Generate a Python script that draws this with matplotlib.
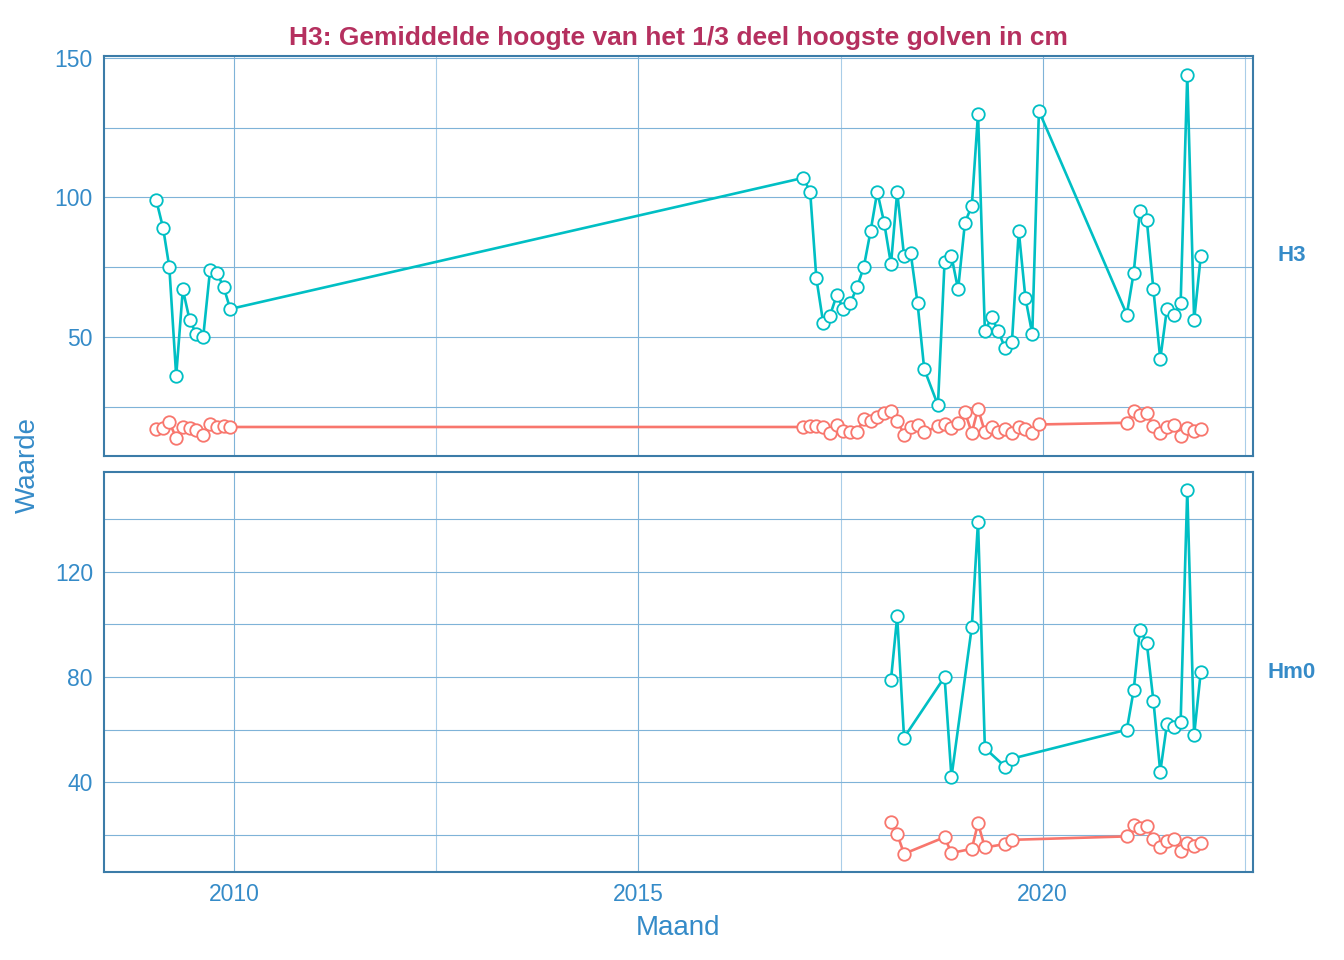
import datetime as dt
import matplotlib
matplotlib.use("Agg")
import matplotlib.pyplot as plt
import matplotlib.dates as mdates
from matplotlib.ticker import FixedLocator

plt.rcParams["font.family"] = ["Liberation Sans", "DejaVu Sans"]

# months (year, month) per panel
months_h3 = ([(2009, m) for m in range(1, 13)]
             + [(2017, m) for m in range(1, 13)]
             + [(2018, m) for m in range(1, 8)]
             + [(2018, m) for m in range(9, 13)]
             + [(2019, m) for m in range(1, 13)]
             + [(2021, m) for m in range(1, 13)])

h3_cyan = [99, 89, 75, 36, 67, 56, 51, 50, 74, 73, 68, 60,
           107, 102, 71, 55, 57.5, 65, 60, 62, 68, 75, 88, 102,
           91, 76, 102, 79, 80, 62, 38.5,
           25.5, 77, 79, 67,
           91, 97, 130, 52, 57, 52, 46, 48, 88, 64, 51, 131,
           58, 73, 95, 92, 67, 42, 60, 58, 62, 144, 56, 79]

h3_red = [16.8, 17.4, 19.4, 13.8, 17.7, 17.4, 16.5, 15.0, 18.6, 17.7, 18.2, 17.7,
          17.7, 18.0, 18.0, 17.7, 15.6, 18.3, 16.4, 15.9, 15.9, 20.7, 20.0, 21.2,
          22.7, 23.6, 20.0, 15.0, 17.7, 18.3, 15.8,
          18.0, 18.6, 17.4, 19.2,
          23.0, 15.6, 24.3, 15.9, 17.7, 15.9, 16.8, 15.6, 17.7, 17.1, 15.6, 18.6,
          19.2, 23.3, 21.9, 22.7, 18.0, 15.6, 17.6, 18.3, 14.4, 17.4, 16.2, 17.1]

months_hm0 = ([(2018, 2), (2018, 3), (2018, 4), (2018, 10), (2018, 11),
               (2019, 2), (2019, 3), (2019, 4), (2019, 7), (2019, 8)]
              + [(2021, m) for m in range(1, 13)])

hm0_cyan = [79, 103, 57, 80, 42, 99, 139, 53, 46, 49,
            60, 75, 98, 93, 71, 44, 62, 61, 63, 151, 58, 82]

hm0_red = [24.8, 20.4, 12.9, 19.2, 13.2, 14.8, 24.5, 15.3, 16.6, 18.2,
           19.5, 23.7, 22.6, 23.3, 18.5, 15.5, 17.6, 18.6, 14.1, 17.0, 16.0, 17.0]

panels = [
    ("H3", months_h3, h3_red, h3_cyan, [50, 100, 150], [25, 75, 125]),
    ("Hm0", months_hm0, hm0_red, hm0_cyan, [40, 80, 120], [20, 60, 100, 140]),
]

RED = "#F8766D"
CYAN = "#00BFC4"
BLUE_TXT = "#358bc8"
SPINE = "#3b7ca8"
GRID = "#7fb3d8"
GRID_MINOR = "#a9cde8"

fig = plt.figure(figsize=(13.44, 9.6), dpi=100)
ax_top = fig.add_axes([0.0774, 0.525, 0.8549, 0.4167])
ax_bot = fig.add_axes([0.0774, 0.0917, 0.8549, 0.4166], sharex=ax_top)

for ax, (name, months, red, cyan, yt, ymin) in zip([ax_top, ax_bot], panels):
    dates = [dt.datetime(y, m, 15) for y, m in months]
    ax.plot(dates, red, color=RED, lw=1.9, zorder=3)
    ax.plot(dates, cyan, color=CYAN, lw=1.9, zorder=3)
    for vals, col in [(red, RED), (cyan, CYAN)]:
        ax.plot(dates, vals, ls="none", marker="o", ms=9, mfc="white",
                mec=col, mew=1.3, zorder=4)
    ax.set_yticks(yt)
    ax.yaxis.set_minor_locator(FixedLocator(ymin))
    ax.grid(True, which="major", color=GRID, lw=0.8, zorder=0)
    ax.grid(True, which="minor", axis="y", color=GRID, lw=0.8, zorder=0)
    ax.grid(True, which="minor", axis="x", color=GRID_MINOR, lw=0.8, zorder=0)
    ax.set_axisbelow(True)
    for sp in ax.spines.values():
        sp.set_color(SPINE)
        sp.set_linewidth(1.5)
    ax.tick_params(which="both", length=0, labelsize=16.5, labelcolor=BLUE_TXT, pad=8)
    ax.text(1.034, 0.5, name, transform=ax.transAxes, ha="center", va="center",
            fontsize=16, fontweight="bold", color=BLUE_TXT)

ax_top.xaxis.set_major_locator(mdates.YearLocator(5))
ax_top.xaxis.set_minor_locator(FixedLocator(
    [mdates.date2num(dt.datetime(2012, 7, 2)), mdates.date2num(dt.datetime(2017, 7, 2)),
     mdates.date2num(dt.datetime(2022, 7, 2))]))
ax_top.xaxis.set_major_formatter(mdates.DateFormatter("%Y"))
ax_top.tick_params(axis="x", labelbottom=False)
ax_top.set_ylim(7.3, 150.7)
ax_bot.set_ylim(6.0, 157.8)

fig.text(0.5048, 0.960, "H3: Gemiddelde hoogte van het 1/3 deel hoogste golven in cm",
         ha="center", va="center", fontsize=19, fontweight="bold", color="#b5305f")
fig.text(0.5048, 0.033, "Maand", ha="center", va="center", fontsize=20, color=BLUE_TXT)
fig.text(0.021, 0.516, "Waarde", ha="center", va="center", rotation=90,
         fontsize=20, color=BLUE_TXT)

fig.savefig("out.png", dpi=100)
